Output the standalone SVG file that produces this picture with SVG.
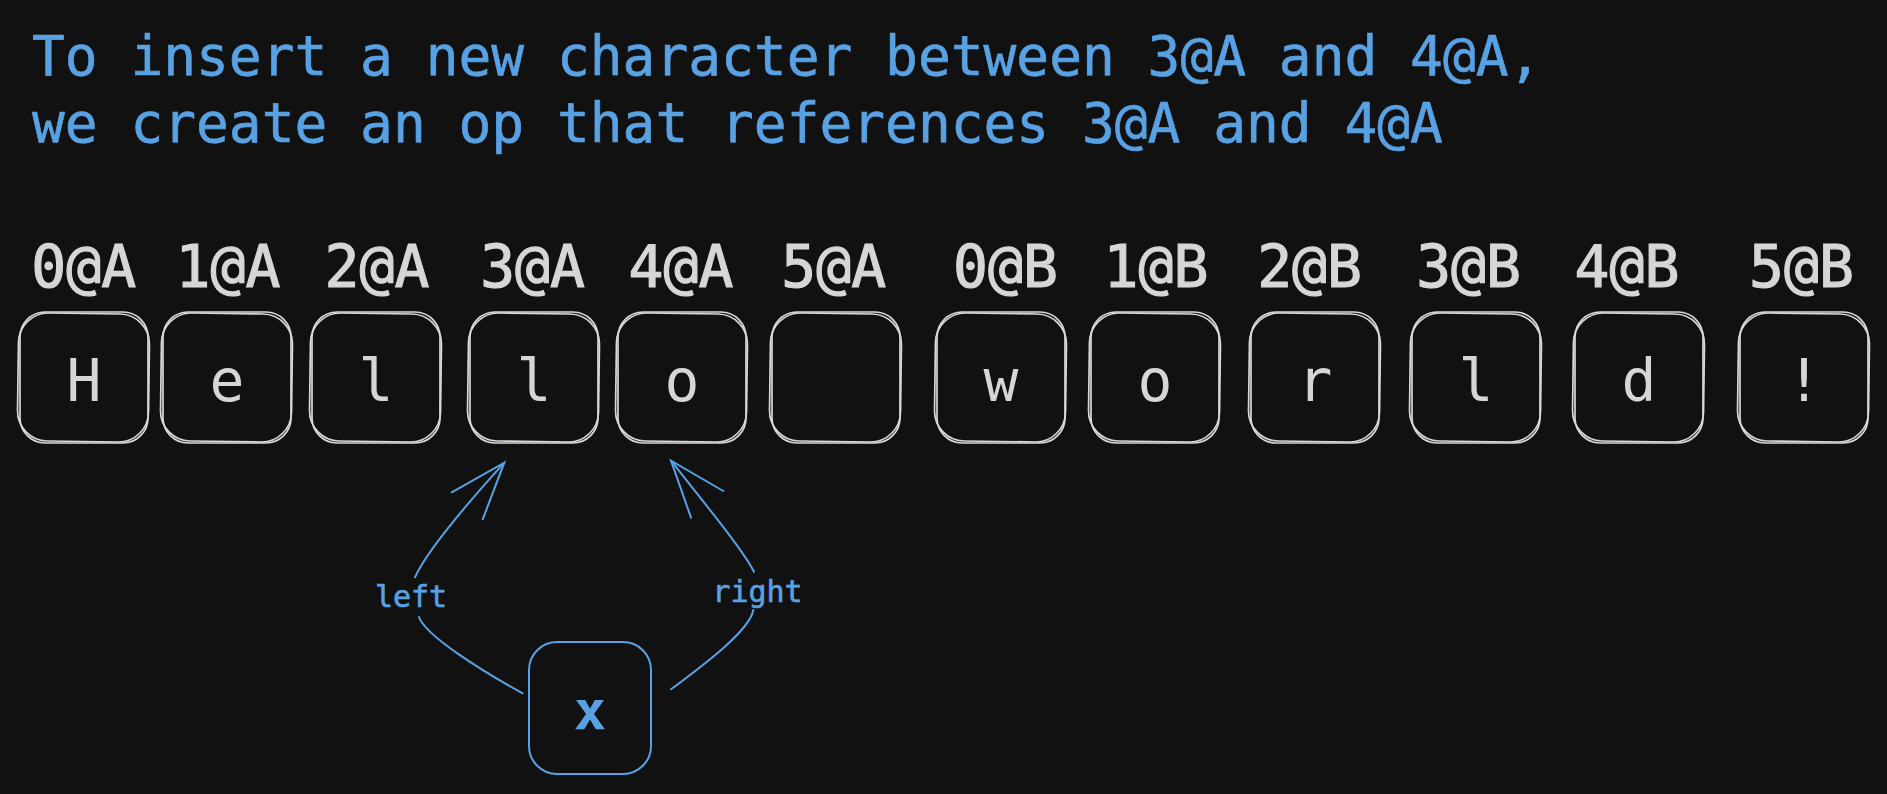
<svg xmlns="http://www.w3.org/2000/svg" width="1887" height="794" viewBox="0 0 1887 794">
<style>
.bg{fill:#111111}
.title{font-family:"DejaVu Sans Mono","Liberation Mono",monospace;font-size:54.5px;fill:#58a2e4;stroke:#58a2e4;stroke-width:0.6}
.lbl{font-family:"DejaVu Sans Mono","Liberation Mono",monospace;font-size:58px;fill:#d6d6d6;stroke:#d6d6d6;stroke-width:1.2;text-anchor:middle}
.ch{font-family:"DejaVu Sans Mono","Liberation Mono",monospace;font-size:58px;fill:#d6d6d6;text-anchor:middle}
.sk{fill:none;stroke:#d8d8d8;stroke-width:1.7}
.blue{fill:none;stroke:#58a2e4;stroke-width:2;stroke-linecap:round}
.elbl{font-family:"DejaVu Sans Mono","Liberation Mono",monospace;font-size:30px;fill:#58a2e4;stroke:#58a2e4;stroke-width:0.6;text-anchor:middle}
.xch{font-family:"DejaVu Sans Mono","Liberation Mono",monospace;font-size:54px;font-weight:bold;fill:#58a2e4;text-anchor:middle}
</style>
<defs>
<g id="box">
<rect class="sk" x="0" y="0" width="128" height="131" rx="25"/>
<rect class="sk" x="-2" y="1.5" width="131" height="128" rx="30" transform="rotate(0.8 64 65)"/>
</g>
</defs>
<rect class="bg" x="0" y="0" width="1887" height="794"/>
<g id="title">
<text class="title" x="32" y="75">To insert a new character between 3@A and 4@A,</text>
<text class="title" x="32" y="142">we create an op that references 3@A and 4@A</text>
</g>
<g id="node-0A"><text class="lbl" x="83.7" y="287">0@A</text><use href="#box" x="20" y="312"/><text class="ch" x="84" y="401">H</text></g>
<g id="node-1A"><text class="lbl" x="228" y="287">1@A</text><use href="#box" x="163" y="312"/><text class="ch" x="227" y="401">e</text></g>
<g id="node-2A"><text class="lbl" x="377" y="287">2@A</text><use href="#box" x="312" y="312"/><text class="ch" x="376" y="401">l</text></g>
<g id="node-3A"><text class="lbl" x="532.6" y="287">3@A</text><use href="#box" x="470" y="312"/><text class="ch" x="534" y="401">l</text></g>
<g id="node-4A"><text class="lbl" x="681" y="287">4@A</text><use href="#box" x="618" y="312"/><text class="ch" x="682" y="401">o</text></g>
<g id="node-5A"><text class="lbl" x="833.7" y="287">5@A</text><use href="#box" x="772" y="312"/><text class="ch" x="836" y="401"> </text></g>
<g id="node-0B"><text class="lbl" x="1005.5" y="287">0@B</text><use href="#box" x="937" y="312"/><text class="ch" x="1001" y="401">w</text></g>
<g id="node-1B"><text class="lbl" x="1156" y="287">1@B</text><use href="#box" x="1091" y="312"/><text class="ch" x="1155" y="401">o</text></g>
<g id="node-2B"><text class="lbl" x="1309.6" y="287">2@B</text><use href="#box" x="1251" y="312"/><text class="ch" x="1315" y="401">r</text></g>
<g id="node-3B"><text class="lbl" x="1468.6" y="287">3@B</text><use href="#box" x="1412" y="312"/><text class="ch" x="1476" y="401">l</text></g>
<g id="node-4B"><text class="lbl" x="1627" y="287">4@B</text><use href="#box" x="1575" y="312"/><text class="ch" x="1639" y="401">d</text></g>
<g id="node-5B"><text class="lbl" x="1801.5" y="287">5@B</text><use href="#box" x="1740" y="312"/><text class="ch" x="1804" y="401">!</text></g>
<g id="connectors">
<path class="blue" d="M522.7,693.3 C480,670 425,635 419,617"/>
<path class="blue" d="M415,577.3 C428,548 475,495 504.3,462.7"/>
<path class="blue" d="M451.7,492.3 L504.3,462.7 L482.7,519.3"/>
<text class="elbl" x="411" y="607">left</text>
<path class="blue" d="M671,689.3 C705,664 750,630 753.3,610"/>
<path class="blue" d="M754,571.7 C742,548 700,498 671,460.7"/>
<path class="blue" d="M723.3,491 L671,460.7 L691,517.7"/>
<text class="elbl" x="757.5" y="602">right</text>
</g>
<g id="node-x">
<rect class="blue" x="529" y="642" width="122" height="132" rx="28"/>
<text class="xch" x="590" y="729">x</text>
</g>
</svg>
